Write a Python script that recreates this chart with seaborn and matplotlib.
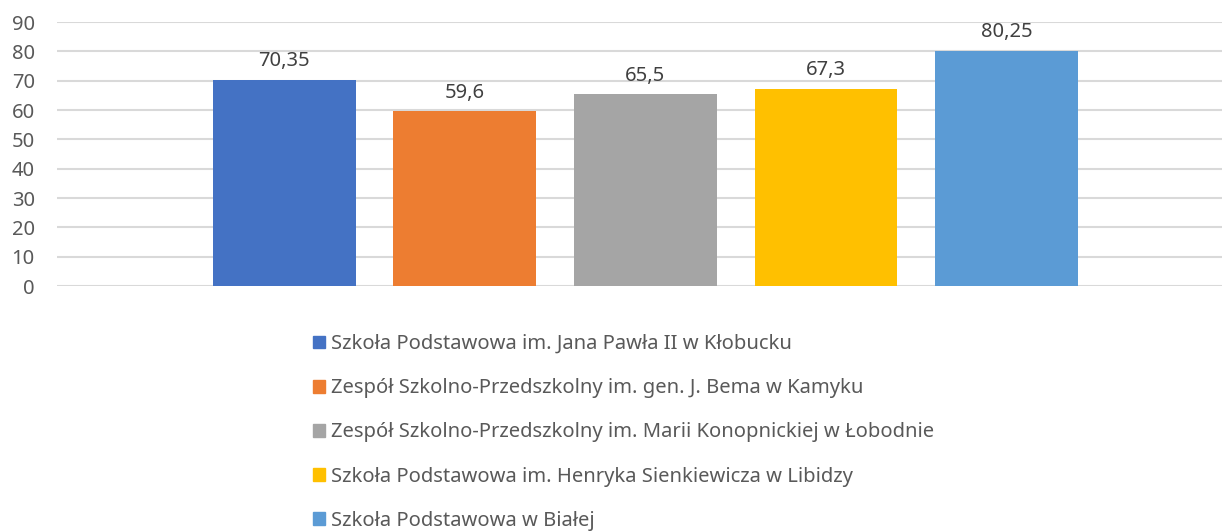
import pandas as pd
import matplotlib
matplotlib.use('Agg')
import matplotlib.pyplot as plt
import seaborn as sns

# Data
szkoly = [
    'Szkoła Podstawowa im. Jana Pawła II w Kłobucku',
    'Zespół Szkolno-Przedszkolny im. gen. J. Bema w Kamyku',
    'Zespół Szkolno-Przedszkolny im. Marii Konopnickiej w Łobodnie',
    'Szkoła Podstawowa im. Henryka Sienkiewicza w Libidzy',
    'Szkoła Podstawowa w Białej',
]
wyniki = [70.35, 59.6, 65.5, 67.3, 80.25]
kolory = ['#4472C4', '#ED7D31', '#A5A5A5', '#FFC000', '#5B9BD5']
y_ticks = list(range(0, 91, 10))

df = pd.DataFrame({'kat': [''] * len(szkoly), 'szkola': szkoly, 'wynik': wyniki})

sns.set_theme(style='white')
plt.rcParams['font.family'] = ['Noto Sans', 'DejaVu Sans']
FS = 14.5

fig = plt.figure(figsize=(12.22, 5.31), dpi=100)
ax = fig.add_axes([57 / 1222, 245 / 531, 1 - 57 / 1222, 264 / 531])

sns.barplot(data=df, x='kat', y='wynik', hue='szkola', palette=kolory,
            width=0.775, gap=0.21, ax=ax, legend=False, saturation=1,
            linewidth=0, edgecolor='none')

# data labels with comma decimal separator
for cont in ax.containers:
    labels = [f'{b.get_height():g}'.replace('.', ',') for b in cont]
    ax.bar_label(cont, labels=labels, padding=6, fontsize=FS, color='#404040')

ax.set_ylim(0, 90)
ax.set_xlim(-0.505, 0.495)
ax.set_yticks(y_ticks)
ax.set_yticklabels([str(t) for t in y_ticks], fontsize=FS, color='#595959')
ax.set_xticks([])
ax.set_xlabel('')
ax.set_ylabel('')
ax.yaxis.grid(True, color='#d9d9d9', linewidth=1.5)
ax.set_axisbelow(True)
ax.tick_params(axis='y', length=0, pad=16)
for s in ax.spines.values():
    s.set_visible(False)

handles = [plt.Rectangle((0, 0), 1, 1, color=c) for c in kolory]
fig.legend(handles, szkoly, loc='upper left', bbox_to_anchor=(303 / 1222, 1 - 324 / 531),
           frameon=False, ncol=1, fontsize=FS, labelcolor='#595959',
           handlelength=0.6, handleheight=0.6, handletextpad=0.3, labelspacing=1.2,
           borderpad=0)

fig.savefig('out.png', dpi=100)
